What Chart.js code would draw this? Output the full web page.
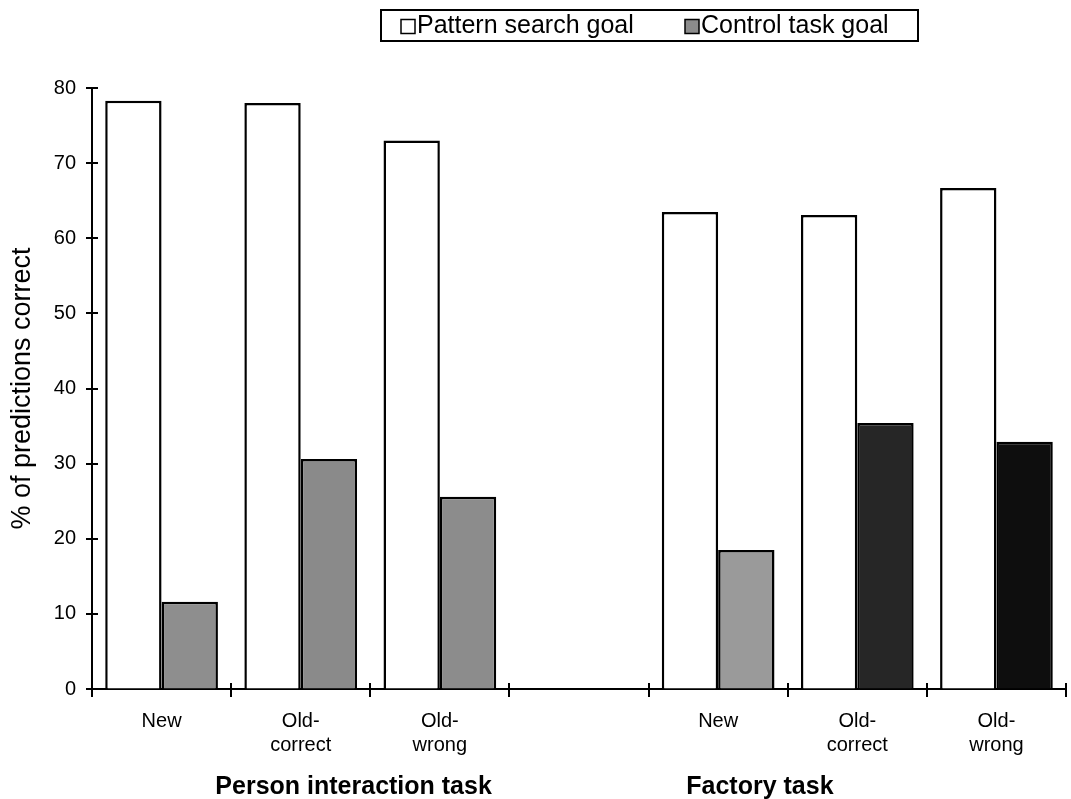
<!DOCTYPE html>
<html>
<head>
<meta charset="utf-8">
<script src="https://cdn.jsdelivr.net/npm/chart.js@4.4.1/dist/chart.umd.min.js"></script>
<style>
  html, body { margin: 0; padding: 0; background: #fff; }
  #wrap { width: 1071px; height: 799px; position: relative; }
</style>
</head>
<body>
<div id="wrap"><canvas id="goalChart"></canvas></div>
<script>
/* ========================================
   DADOS
   ======================================== */

// categorias (a 4a fica vazia, separa as duas tarefas)
const categories = ['New', ['Old-', 'correct'], ['Old-', 'wrong'], '', 'New', ['Old-', 'correct'], ['Old-', 'wrong']];

const patternSearch = [78.3, 78.0, 73.0, null, 63.5, 63.1, 66.7];
const controlTask = [11.6, 30.6, 25.6, null, 18.5, 35.4, 32.9];

const seriesNames = ['Pattern search goal', 'Control task goal'];
const groupNames = ['Person interaction task', 'Factory task'];

const yTicks = [0, 10, 20, 30, 40, 50, 60, 70, 80];

// cores das barras de controle (cada barra tem um tom)
const controlColors = ['#8e8e8e', '#8a8a8a', '#8c8c8c', '#8c8c8c', '#9a9a9a', '#262626', '#0e0e0e'];

const FONT = "'Liberation Sans', Arial, sans-serif";

/* ========================================
   PLUGINS
   ======================================== */

/**
 * Marcas de eixo cruzando a linha (para dentro e para fora)
 */
const crossTicks = {
  id: 'crossTicks',
  afterDraw(chart) {
    const ctx = chart.ctx;
    const x = chart.scales.x;
    const y = chart.scales.y;
    ctx.save();
    ctx.strokeStyle = '#000';
    ctx.lineWidth = 2;
    ctx.beginPath();
    y.ticks.forEach(t => {
      const py = Math.round(y.getPixelForValue(t.value));
      ctx.moveTo(x.left - 6, py);
      ctx.lineTo(x.left + 6, py);
    });
    for (let i = 0; i <= categories.length; i++) {
      const px = Math.round(x.getPixelForValue(i - 0.5));
      ctx.moveTo(px, y.bottom - 6);
      ctx.lineTo(px, y.bottom + 8);
    }
    ctx.stroke();
    ctx.restore();
  }
};

/**
 * Rótulos em negrito dos grupos embaixo do eixo x
 */
const groupLabels = {
  id: 'groupLabels',
  afterDraw(chart, args, opts) {
    const ctx = chart.ctx;
    const x = chart.scales.x;
    ctx.save();
    ctx.fillStyle = '#000';
    ctx.font = 'bold 25px ' + FONT;
    ctx.textAlign = 'center';
    ctx.textBaseline = 'alphabetic';
    groupNames.forEach((name, i) => {
      ctx.fillText(name, x.getPixelForValue(opts.at[i]), opts.y);
    });
    ctx.restore();
  }
};

/**
 * Legenda com caixa no topo
 */
const boxLegend = {
  id: 'boxLegend',
  afterDraw(chart, args, opts) {
    const ctx = chart.ctx;
    ctx.save();
    ctx.font = '25px ' + FONT;
    ctx.textBaseline = 'middle';
    ctx.textAlign = 'left';

    // caixa
    ctx.strokeStyle = '#000';
    ctx.lineWidth = 2;
    ctx.strokeRect(opts.left, opts.top, opts.right - opts.left, opts.bottom - opts.top);

    const cy = (opts.top + opts.bottom) / 2 + 1;
    chart.data.datasets.forEach((ds, i) => {
      const px = opts.items[i];
      ctx.fillStyle = i === 0 ? '#fff' : '#8c8c8c';
      ctx.fillRect(px, cy - 7, 14, 14);
      ctx.lineWidth = 1.5;
      ctx.strokeRect(px, cy - 7, 14, 14);
      ctx.fillStyle = '#000';
      ctx.fillText(ds.label, px + 16, cy);
    });
    ctx.restore();
  }
};

/* ========================================
   GRÁFICO
   ======================================== */

function buildChart() {
  const canvas = document.getElementById('goalChart');

  new Chart(canvas, {
    type: 'bar',
    data: {
      labels: categories,
      datasets: [
        {
          label: seriesNames[0],
          data: patternSearch,
          backgroundColor: '#fff',
          borderColor: '#000',
          borderWidth: 2.5
        },
        {
          label: seriesNames[1],
          data: controlTask,
          backgroundColor: controlColors,
          borderColor: '#000',
          borderWidth: 2.5
        }
      ]
    },
    options: {
      responsive: true,
      maintainAspectRatio: false,
      animation: false,
      devicePixelRatio: 1,
      datasets: {
        bar: {
          categoryPercentage: 0.81,
          barPercentage: 1.0
        }
      },
      layout: {
        padding: { top: 88, right: 5, bottom: 0, left: 0 }
      },
      plugins: {
        legend: { display: false },
        tooltip: { enabled: false },
        groupLabels: { at: [1.38, 4.3], y: 794 },
        boxLegend: { left: 381, right: 918, top: 10, bottom: 41, items: [401, 685] }
      },
      scales: {
        x: {
          afterFit: s => { s.height = 110; },
          grid: { display: true, drawOnChartArea: false, drawTicks: false, offset: true },
          border: { display: true, color: '#000', width: 2 },
          ticks: {
            color: '#000',
            font: { family: FONT, size: 20 },
            padding: 20,
            maxRotation: 0,
            autoSkip: false
          }
        },
        y: {
          min: 0,
          max: 80,
          afterFit: s => { s.width = 92; },
          afterBuildTicks: s => { s.ticks = yTicks.map(v => ({ value: v })); },
          grid: { display: true, drawOnChartArea: false, drawTicks: false },
          border: { display: true, color: '#000', width: 2 },
          ticks: {
            color: '#000',
            font: { family: FONT, size: 20 },
            padding: 16
          },
          title: {
            display: true,
            text: '% of predictions correct',
            color: '#000',
            font: { family: FONT, size: 27 },
            padding: { top: 6, bottom: 0 }
          }
        }
      }
    },
    plugins: [crossTicks, groupLabels, boxLegend]
  });
}

document.addEventListener('DOMContentLoaded', buildChart);
</script>
</body>
</html>
